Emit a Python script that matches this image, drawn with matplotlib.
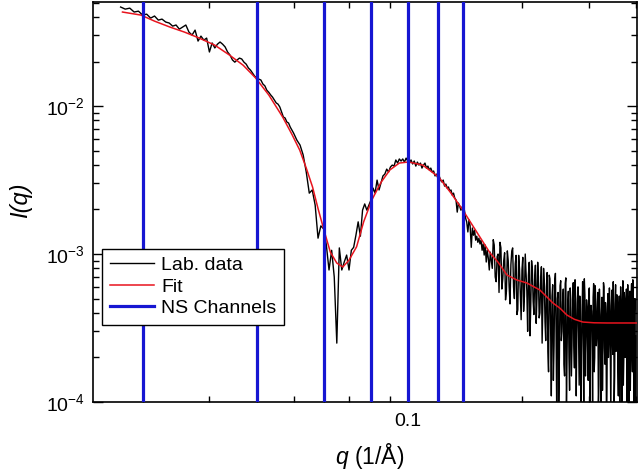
import matplotlib
matplotlib.use("Agg")
import matplotlib.pyplot as plt
from matplotlib.ticker import LogLocator, NullFormatter, FixedLocator, FixedFormatter
import numpy as np

plt.rcParams['font.family'] = ['Liberation Sans', 'DejaVu Sans']
plt.rcParams['mathtext.fontset'] = 'custom'
plt.rcParams['mathtext.rm'] = 'Liberation Sans'
plt.rcParams['mathtext.it'] = 'Liberation Sans:italic'

# ---------------- data ----------------
# Lab. data, low-q part
q_lab_a = [0.0175, 0.0180, 0.0185, 0.0190, 0.0195, 0.0200, 0.0205, 0.0210, 0.0215, 0.0220,
           0.0225, 0.0230, 0.0235, 0.0240, 0.0245, 0.0250, 0.0255, 0.0260, 0.0265, 0.0270,
           0.0275, 0.0280, 0.0285, 0.0290, 0.0295, 0.0300, 0.0305, 0.0310, 0.0315, 0.0320,
           0.0325, 0.0330, 0.0335, 0.0340, 0.0345, 0.0350, 0.0355, 0.0360, 0.0365, 0.0370,
           0.0375, 0.0380, 0.0385, 0.0390, 0.0395, 0.0400, 0.0405, 0.0410, 0.0415, 0.0420,
           0.0425, 0.0430, 0.0435, 0.0440, 0.0445, 0.0450, 0.0455, 0.0460, 0.0465, 0.0470,
           0.0475, 0.0480, 0.0485, 0.0490, 0.0495, 0.0500]
I_lab_a = [0.0467, 0.0452, 0.0459, 0.0432, 0.0438, 0.0412, 0.0418, 0.0393, 0.0406, 0.0381,
           0.0387, 0.0370, 0.0364, 0.0347, 0.0353, 0.0331, 0.0342, 0.0353, 0.0316, 0.0302,
           0.0326, 0.0275, 0.0297, 0.0279, 0.0288, 0.0232, 0.0267, 0.0247, 0.0262, 0.0271,
           0.0262, 0.0251, 0.0232, 0.0221, 0.0205, 0.0198, 0.0205, 0.0211, 0.0208, 0.0198,
           0.0192, 0.0181, 0.0175, 0.0167, 0.0159, 0.0155, 0.0152, 0.0150, 0.0141, 0.0137,
           0.0128, 0.0124, 0.0119, 0.0115, 0.0110, 0.0105, 0.0103, 0.00985, 0.00911, 0.00843,
           0.00830, 0.00780, 0.00768, 0.00721, 0.00689, 0.00657]

# Lab. data, minimum and peak
q_lab_b = [0.051, 0.052, 0.053, 0.054, 0.055, 0.056, 0.057, 0.058, 0.059, 0.060,
           0.061, 0.062, 0.063, 0.064, 0.065, 0.066, 0.067, 0.068, 0.069, 0.070,
           0.071, 0.072, 0.073, 0.074, 0.075, 0.076, 0.077, 0.078, 0.079, 0.080,
           0.081, 0.082, 0.083, 0.084, 0.085, 0.086, 0.087, 0.088, 0.089, 0.090,
           0.091, 0.092, 0.093, 0.094, 0.095, 0.096, 0.097, 0.098, 0.099, 0.100,
           0.101, 0.102, 0.103, 0.104, 0.105, 0.106, 0.107, 0.108, 0.109, 0.110,
           0.111, 0.112, 0.113, 0.114, 0.115, 0.116, 0.117, 0.118, 0.119, 0.120,
           0.121, 0.122, 0.123, 0.124, 0.125, 0.126, 0.127, 0.128, 0.129, 0.130,
           0.131, 0.132, 0.133, 0.134, 0.135, 0.136, 0.137, 0.138, 0.139, 0.140,
           0.141, 0.142, 0.143, 0.144, 0.145, 0.146, 0.147, 0.148, 0.149, 0.150,
           0.151, 0.152, 0.153, 0.154, 0.155, 0.156, 0.157, 0.158, 0.159, 0.160,
           0.161, 0.162, 0.163, 0.164, 0.165]
I_lab_b = [0.00589, 0.00545, 0.00467, 0.00358, 0.00258, 0.00271, 0.00214, 0.00128, 0.00155, 0.00148,
           0.00115, 0.000780, 0.00106, 0.000700, 0.000250, 0.00110, 0.000780, 0.000883, 0.000984, 0.000780,
           0.00106, 0.00111, 0.00134, 0.00165, 0.00132, 0.00198, 0.00218, 0.00198, 0.00214, 0.00232,
           0.00279, 0.00258, 0.00316, 0.00271, 0.00302, 0.00337, 0.00347, 0.00375, 0.00358, 0.00387,
           0.00399, 0.00393, 0.00432, 0.00412, 0.00439, 0.00425, 0.00439, 0.00418, 0.00445, 0.00425,
           0.00412, 0.00432, 0.00406, 0.00425, 0.00393, 0.00418, 0.00399, 0.00412, 0.00381, 0.00399,
           0.00412, 0.00381, 0.00393, 0.00370, 0.00381, 0.00358, 0.00364, 0.00337, 0.00347, 0.00326,
           0.00337, 0.00316, 0.00307, 0.00316, 0.00288, 0.00297, 0.00279, 0.00284, 0.00267, 0.00271,
           0.00250, 0.00258, 0.00239, 0.00232, 0.00192, 0.00221, 0.00211, 0.00198, 0.00208, 0.00186,
           0.00198, 0.00175, 0.00165, 0.00141, 0.00170, 0.00155, 0.00111, 0.00150, 0.00134, 0.00145,
           0.00124, 0.00132, 0.00120, 0.00128, 0.00117, 0.00124, 0.00106, 0.00117, 0.000984, 0.00115,
           0.000883, 0.00106, 0.000940, 0.000780, 0.00103]

# Lab. data, noisy high-q tail, odd points (intensity in units of 1e-4)
q_lab_c = [0.167, 0.169, 0.171, 0.173, 0.175, 0.177, 0.179, 0.181, 0.183, 0.185,
           0.187, 0.189, 0.191, 0.193, 0.195, 0.197, 0.199, 0.201, 0.203, 0.205,
           0.207, 0.209, 0.211, 0.213, 0.215, 0.217, 0.219, 0.221, 0.223, 0.225,
           0.227, 0.229, 0.231, 0.233, 0.235, 0.237, 0.239, 0.241, 0.243, 0.245,
           0.247, 0.249, 0.251, 0.253, 0.255, 0.257, 0.259, 0.261, 0.263, 0.265,
           0.267, 0.269, 0.271, 0.273, 0.275, 0.277, 0.279, 0.281, 0.283, 0.285,
           0.287, 0.289, 0.291, 0.293, 0.295, 0.297, 0.299, 0.301, 0.303, 0.305,
           0.307, 0.309, 0.311, 0.313, 0.315, 0.317, 0.319, 0.321, 0.323, 0.325,
           0.327, 0.329, 0.331, 0.333, 0.335, 0.337, 0.339, 0.341, 0.343, 0.345,
           0.347, 0.349, 0.351, 0.353, 0.355, 0.357, 0.359, 0.361, 0.363, 0.365,
           0.367, 0.369, 0.371, 0.373, 0.375, 0.377, 0.379, 0.381, 0.383, 0.385,
           0.387, 0.389, 0.391, 0.393, 0.395, 0.397, 0.399]
I_lab_c_e4 = [8.0, 11.5, 6.5, 10.0, 12.0, 5.8, 9.0, 4.9, 10.5, 6.0,
              8.5, 11.0, 5.0, 9.8, 4.2, 8.0, 3.6, 9.5, 5.2, 7.4,
              3.0, 8.8, 4.6, 7.9, 3.9, 8.4, 5.0, 7.0, 4.0, 8.2,
              4.4, 6.6, 2.6, 7.5, 1.6, 6.8, 1.1, 6.2, 2.4, 7.4,
              0.8, 5.5, 2.0, 6.6, 3.0, 5.8, 1.5, 6.9, 2.2, 5.6,
              1.2, 4.9, 2.6, 6.4, 1.7, 5.0, 2.9, 6.0, 1.3, 4.6,
              2.1, 6.5, 0.9, 5.3, 2.5, 4.4, 1.4, 5.9, 2.3, 4.1,
              1.0, 6.3, 2.0, 4.8, 2.8, 5.5, 1.3, 4.2, 0.7, 5.1,
              2.4, 6.0, 1.8, 3.9, 1.2, 5.4, 2.6, 4.5, 0.8, 5.7,
              2.1, 4.0, 1.5, 6.2, 2.7, 4.6, 1.1, 5.2, 2.3, 4.3,
              0.9, 6.6, 1.9, 4.9, 2.5, 5.8, 1.4, 3.8, 1.0, 5.6,
              2.2, 6.3, 1.6, 4.4, 0.8, 5.0, 2.8]

# Lab. data, noisy high-q tail, even points (intensity in units of 1e-4)
q_lab_d = [0.168, 0.170, 0.172, 0.174, 0.176, 0.178, 0.180, 0.182, 0.184, 0.186,
           0.188, 0.190, 0.192, 0.194, 0.196, 0.198, 0.200, 0.202, 0.204, 0.206,
           0.208, 0.210, 0.212, 0.214, 0.216, 0.218, 0.220, 0.222, 0.224, 0.226,
           0.228, 0.230, 0.232, 0.234, 0.236, 0.238, 0.240, 0.242, 0.244, 0.246,
           0.248, 0.250, 0.252, 0.254, 0.256, 0.258, 0.260, 0.262, 0.264, 0.266,
           0.268, 0.270, 0.272, 0.274, 0.276, 0.278, 0.280, 0.282, 0.284, 0.286,
           0.288, 0.290, 0.292, 0.294, 0.296, 0.298, 0.300, 0.302, 0.304, 0.306,
           0.308, 0.310, 0.312, 0.314, 0.316, 0.318, 0.320, 0.322, 0.324, 0.326,
           0.328, 0.330, 0.332, 0.334, 0.336, 0.338, 0.340, 0.342, 0.344, 0.346,
           0.348, 0.350, 0.352, 0.354, 0.356, 0.358, 0.360, 0.362, 0.364, 0.366,
           0.368, 0.370, 0.372, 0.374, 0.376, 0.378, 0.380, 0.382, 0.384, 0.386,
           0.388, 0.390, 0.392, 0.394, 0.396, 0.398]
I_lab_d_e4 = [12.5, 7.0, 9.6, 5.5, 11.0, 6.8, 10.2, 5.6, 9.0, 4.6,
              10.5, 6.0, 8.6, 3.9, 9.8, 5.4, 7.8, 4.1, 10.0, 5.6,
              7.2, 2.8, 9.0, 4.8, 6.8, 3.4, 8.8, 3.7, 6.4, 2.5,
              8.0, 3.5, 6.0, 2.2, 7.2, 3.2, 5.2, 1.4, 6.6, 2.9,
              5.0, 1.0, 6.1, 2.6, 4.8, 1.8, 6.3, 0.9, 4.5, 2.0,
              5.9, 1.5, 4.3, 2.4, 6.7, 1.1, 4.7, 2.6, 5.2, 0.6,
              4.0, 2.9, 6.8, 1.5, 4.9, 2.2, 5.6, 0.8, 4.5, 3.0,
              5.1, 1.6, 6.1, 2.4, 4.3, 0.9, 5.8, 2.7, 3.9, 1.2,
              6.4, 2.3, 4.7, 0.7, 4.4, 2.0, 5.9, 1.7, 4.1, 2.9,
              6.5, 1.0, 4.6, 2.2, 5.3, 1.6, 3.8, 0.8, 6.0, 2.5,
              4.4, 1.3, 5.5, 2.0, 4.2, 0.9, 6.2, 2.6, 4.8, 1.2,
              5.1, 2.4, 6.7, 1.5, 4.0, 0.9]

# Fit curve
q_fit = [0.0177, 0.0198, 0.0215, 0.0236, 0.0258, 0.0282, 0.0310, 0.0339, 0.0368, 0.0397,
         0.0430, 0.0468, 0.0495, 0.0519, 0.0540, 0.0561, 0.0580, 0.0600, 0.0625, 0.0650,
         0.0674, 0.0700, 0.0733, 0.0765, 0.0804, 0.0850, 0.0897, 0.0950, 0.1006, 0.1095,
         0.1207, 0.1300, 0.1397, 0.1550, 0.1646, 0.1730, 0.1825, 0.1940, 0.2061, 0.2230,
         0.2413, 0.2520, 0.2627, 0.2750, 0.2895, 0.3100, 0.3350, 0.3700, 0.4045]
I_fit = [0.0432, 0.0412, 0.0375, 0.0342, 0.0316, 0.0288, 0.0258, 0.0221, 0.0189, 0.0155,
         0.0119, 0.00843, 0.00644, 0.00504, 0.00381, 0.00284, 0.00203, 0.00148, 0.00103, 0.000869,
         0.000817, 0.000910, 0.00112, 0.00165, 0.00232, 0.00305, 0.00370, 0.00412, 0.00419, 0.00399,
         0.00331, 0.00258, 0.00198, 0.00130, 0.00102, 0.00088, 0.000722, 0.000667, 0.000637, 0.000571,
         0.000467, 0.00043, 0.000387, 0.000362, 0.000347, 0.000343, 0.000342, 0.000342, 0.000342]

# NS channel positions
ns_channels = [0.02, 0.04, 0.06, 0.08, 0.10, 0.12, 0.14]

# ---------------- plot ----------------
q_tail = np.array(q_lab_c + q_lab_d)
I_tail = np.array(I_lab_c_e4 + I_lab_d_e4) * 1e-4
order = np.argsort(q_tail)
q_lab = np.concatenate([q_lab_a, q_lab_b, q_tail[order]])
I_lab = np.concatenate([I_lab_a, I_lab_b, I_tail[order]])

fig = plt.figure(figsize=(6.4, 4.71), dpi=100)
ax = fig.add_axes([93 / 640, 69 / 471, 544 / 640, 400 / 471])

ax.plot(q_lab, I_lab, color='black', lw=1.0, label='Lab. data', zorder=2)
ax.plot(q_fit, I_fit, color='#e8141e', lw=1.1, label='Fit', zorder=3)
for i, qc in enumerate(ns_channels):
    ax.axvline(qc, color='#1616d2', lw=2.3, zorder=4,
               label='NS Channels' if i == 0 else None)

ax.set_xscale('log')
ax.set_yscale('log')
ax.set_xlim(0.0148, 0.402)
ax.set_ylim(1e-4, 0.0505)

ax.xaxis.set_major_locator(FixedLocator([0.1]))
ax.xaxis.set_major_formatter(FixedFormatter(['0.1']))
ax.xaxis.set_minor_locator(LogLocator(base=10, subs=np.arange(2, 10), numticks=20))
ax.xaxis.set_minor_formatter(NullFormatter())
ax.yaxis.set_major_locator(LogLocator(base=10, numticks=10))
ax.yaxis.set_minor_locator(LogLocator(base=10, subs=np.arange(2, 10), numticks=20))
ax.yaxis.set_minor_formatter(NullFormatter())

ax.tick_params(which='both', direction='in', top=True, right=True, labelsize=14,
               width=1.0, colors='black')
ax.tick_params(which='major', length=7)
ax.tick_params(which='minor', length=4)
ax.tick_params(axis='x', pad=8)
ax.tick_params(axis='y', pad=6)
for s in ax.spines.values():
    s.set_linewidth(1.2)

ax.set_xlabel('$q$ (1/Å)', fontsize=16.5)
ax.xaxis.set_label_coords(0.509, -0.098)
ax.set_ylabel('I(q)', fontsize=17, style='italic')
ax.yaxis.set_label_coords(-0.112, 0.505)

leg = ax.legend(loc='lower left', bbox_to_anchor=(0.0165, 0.1925), borderaxespad=0,
                fontsize=14, frameon=True, fancybox=False, edgecolor='black',
                framealpha=1, handlelength=2.3, handletextpad=0.35,
                labelspacing=0.2, borderpad=0.4)
leg.get_frame().set_linewidth(1.0)

fig.savefig('out.png', dpi=100)
